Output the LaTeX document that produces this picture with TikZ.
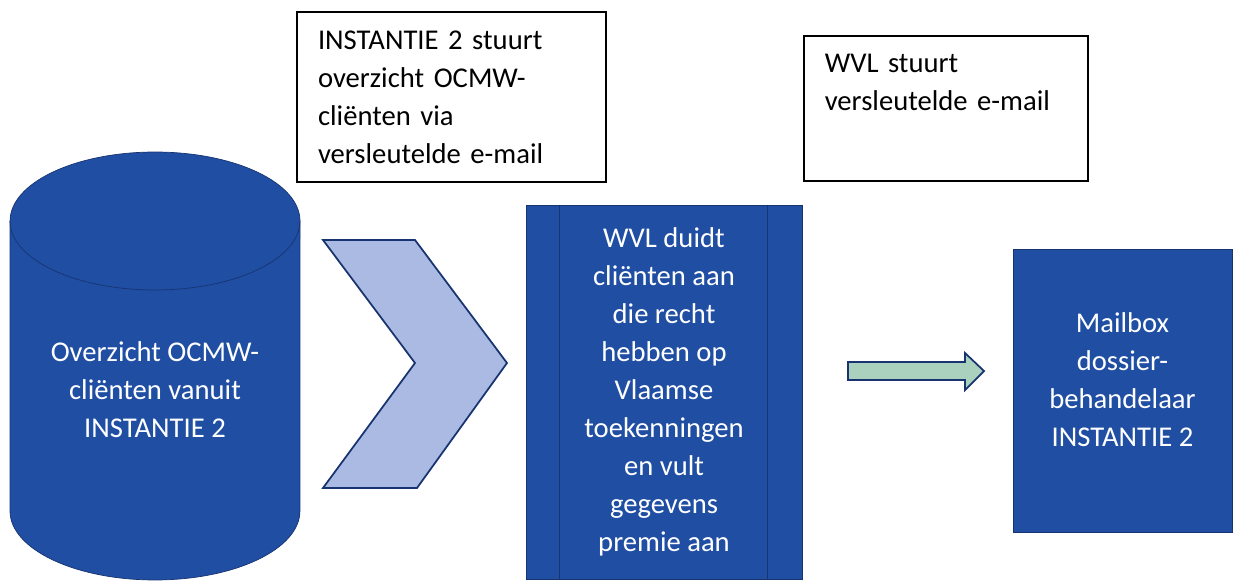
\documentclass[tikz,border=0pt]{standalone}
\usepackage{fontspec}
\setmainfont{Carlito}
\usetikzlibrary{positioning}
\definecolor{ocmwblue}{RGB}{31,78,163}
\definecolor{ocmwline}{RGB}{24,52,112}
\definecolor{chevronfill}{RGB}{170,186,226}
\definecolor{arrowfill}{RGB}{170,208,190}

\begin{document}
\begin{tikzpicture}
 [ x=0.02cm
 , y=0.02cm
 , every node/.style={font=\fontsize{16.3}{21.6}\selectfont}
 , bluebox/.style={draw=ocmwline, fill=ocmwblue, text=white, align=center, inner sep=0pt}
 , whitetext/.style={text=white, align=center}
 , notebox/.style={draw=black, line width=0.9pt, fill=white, align=left, inner xsep=0.42cm}
 , shapeline/.style={draw=ocmwline, line width=1pt}
 ]
  \useasboundingbox (0,0) rectangle (1234,585);

  % database cylinder
  \filldraw [fill=ocmwblue, draw=ocmwline]
    (10,364) -- (10,74) arc (180:360:2.9cm and 1.38cm)
    -- (300,364) arc (0:180:2.9cm and 1.38cm) -- cycle;
  \draw [ocmwline] (10,364) arc (180:360:2.9cm and 1.38cm);
  \node [whitetext] (database) at (155,195)
    {Overzicht OCMW-\\cliënten vanuit\\INSTANTIE 2};

  % chevron
  \filldraw [shapeline, fill=chevronfill]
    (323,345) -- (415,345) -- (507,222) -- (417,97) -- (323,97) -- (415,222) -- cycle;

  \node [bluebox, minimum width=5.52cm, minimum height=7.48cm] (wvl) at (664,193)
    {WVL duidt\\cliënten aan\\die recht\\hebben op\\Vlaamse\\toekenningen\\en vult\\gegevens\\premie aan};
  \draw [ocmwline] ([xshift=0.68cm]wvl.north west) -- ([xshift=0.68cm]wvl.south west);
  \draw [ocmwline] ([xshift=-0.7cm]wvl.north east) -- ([xshift=-0.7cm]wvl.south east);

  % arrow to mailbox
  \filldraw [shapeline, fill=arrowfill]
    (848,223) -- (965,223) -- (965,232) -- (984,214) -- (965,195) -- (965,205) -- (848,205) -- cycle;

  \node [bluebox, minimum width=4.38cm, minimum height=5.66cm] (mailbox) at (1122.5,194.5) {};
  \node [whitetext] (mailboxtext) at ([yshift=0.22cm]mailbox.center)
    {Mailbox\\dossier-\\behandelaar\\INSTANTIE 2};

  % text boxes
  \node [notebox, minimum height=3.4cm, text width=5.34cm] (sendlist) at (451.5,488)
    {INSTANTIE 2 stuurt\\overzicht OCMW-\\cliënten via\\versleutelde e-mail};
  \node [notebox, anchor=north west, inner ysep=0.2cm, text width=4.84cm,
         text height=0.54cm, text depth=1.96cm] (sendmail) at (803,550)
    {WVL stuurt\\versleutelde e-mail};
\end{tikzpicture}
\end{document}
